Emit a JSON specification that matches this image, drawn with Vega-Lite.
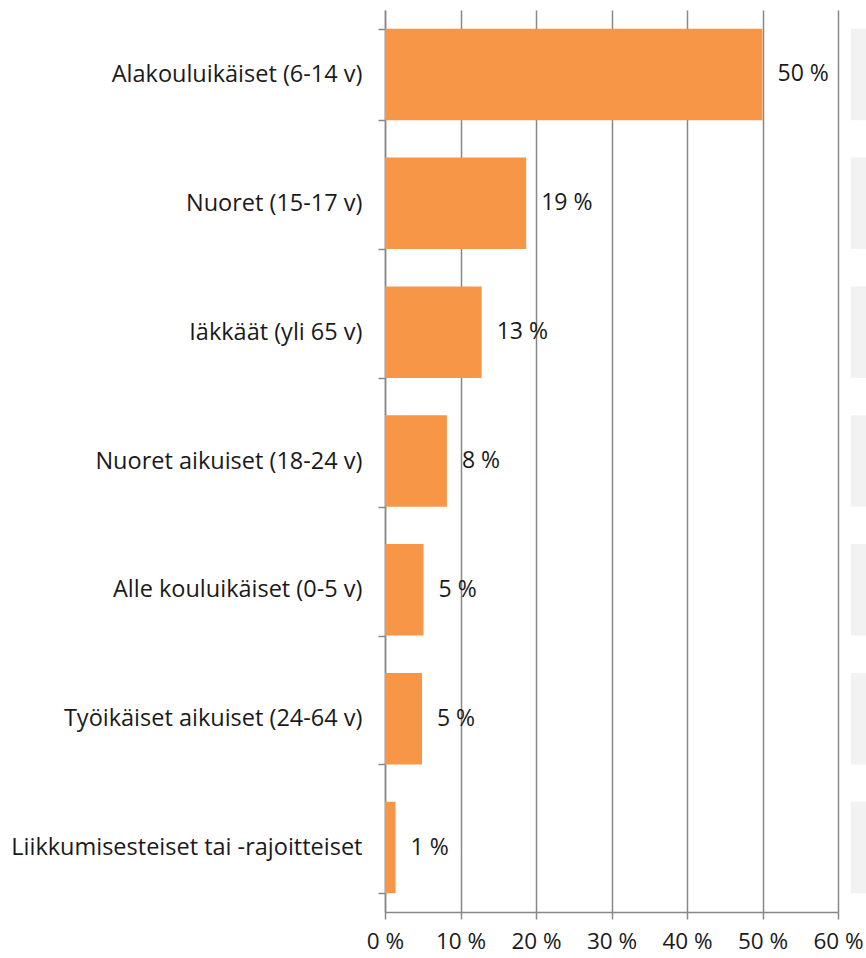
{
  "$schema": "https://vega.github.io/schema/vega-lite/v6.json",
  "autosize": "none",
  "padding": {"left": 385, "top": 10, "right": 28, "bottom": 46},
  "width": 453,
  "height": 902,
  "background": "white",
  "config": {"view": {"stroke": null}, "font": "Open Sans"},
  "data": {"values": [
    {"group": "Alakouluikäiset (6-14 v)", "value": 50.0, "label": "50 %", "bg0": 61.7, "bg1": 75},
    {"group": "Nuoret (15-17 v)", "value": 18.7, "label": "19 %", "bg0": 61.7, "bg1": 75},
    {"group": "Iäkkäät (yli 65 v)", "value": 12.8, "label": "13 %", "bg0": 61.7, "bg1": 75},
    {"group": "Nuoret aikuiset (18-24 v)", "value": 8.2, "label": "8 %", "bg0": 61.7, "bg1": 75},
    {"group": "Alle kouluikäiset (0-5 v)", "value": 5.1, "label": "5 %", "bg0": 61.7, "bg1": 75},
    {"group": "Työikäiset aikuiset (24-64 v)", "value": 4.9, "label": "5 %", "bg0": 61.7, "bg1": 75},
    {"group": "Liikkumisesteiset tai -rajoitteiset", "value": 1.4, "label": "1 %", "bg0": 61.7, "bg1": 75}
  ]},
  "encoding": {
    "y": {
      "field": "group", "type": "nominal", "sort": null, "title": null,
      "scale": {"paddingInner": 0.29, "paddingOuter": 0.145},
      "axis": {
        "tickBand": "extent", "tickSize": 7, "tickColor": "#888888", "tickWidth": 1.5,
        "domainColor": "#888888", "domainWidth": 1.5,
        "labelFontSize": 23.5, "labelColor": "#1a1a1a", "labelPadding": 16, "labelLimit": 400
      }
    }
  },
  "layer": [
    {
      "mark": {"type": "bar", "color": "#f2f2f2", "clip": false},
      "encoding": {
        "x": {"field": "bg0", "type": "quantitative"},
        "x2": {"field": "bg1"}
      }
    },
    {
      "mark": {"type": "bar", "color": "#F79646"},
      "encoding": {
        "x": {
          "field": "value", "type": "quantitative", "title": null,
          "scale": {"domain": [0, 60], "nice": false},
          "axis": {
            "values": [0, 10, 20, 30, 40, 50, 60],
            "labelExpr": "datum.value + ' %'",
            "grid": true, "gridColor": "#888888", "gridWidth": 1.5,
            "domainColor": "#888888", "domainWidth": 1.5,
            "tickColor": "#888888", "tickWidth": 1.5, "tickSize": 7,
            "labelFontSize": 22.5, "labelColor": "#1a1a1a", "labelPadding": 11,
            "labelFlush": false
          }
        }
      }
    },
    {
      "mark": {"type": "text", "align": "left", "baseline": "middle", "dx": 15, "fontSize": 23, "color": "#1a1a1a"},
      "encoding": {
        "x": {"field": "value", "type": "quantitative"},
        "text": {"field": "label"}
      }
    }
  ]
}
